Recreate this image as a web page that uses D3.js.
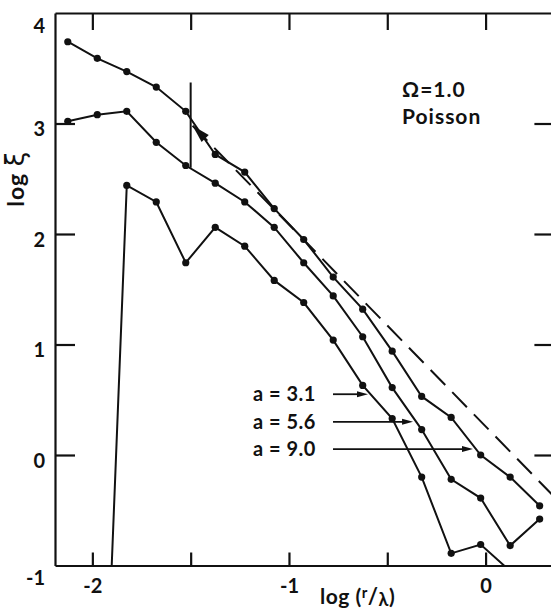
<!DOCTYPE html>
<html><head><meta charset="utf-8">
<script src="https://cdn.jsdelivr.net/npm/d3@7"></script>
<style>
body{margin:0;background:#fff}
text{font-family:Lato,"DejaVu Sans",sans-serif;font-weight:700;fill:#111}
</style>
</head><body><svg id="c" width="551" height="611"></svg>
<script>
// ---- data ----
const logR = [-2.125, -1.975, -1.825, -1.675, -1.525, -1.375, -1.225, -1.075, -0.925,
              -0.775, -0.625, -0.475, -0.325, -0.175, -0.025, 0.125, 0.275];
const xiA90 = [3.74, 3.59, 3.47, 3.33, 3.11, 2.72, 2.56, 2.23, 1.95, 1.61, 1.32, 0.94, 0.53, 0.34, 0.00, -0.20, -0.46];
const xiA56 = [3.02, 3.08, 3.11, 2.83, 2.62, 2.46, 2.29, 2.06, 1.74, 1.44, 1.07, 0.61, 0.23, -0.22, -0.39, -0.82, -0.58];
const xiA31 = [null, -4.3, 2.44, 2.29, 1.74, 2.06, 1.89, 1.58, 1.38, 1.04, 0.63, 0.33, -0.20, -0.89, -0.81, -1.05, null];
const seriesNames = ["a = 3.1", "a = 5.6", "a = 9.0"];
const labelArrowY = [0.55, 0.30, 0.054];
const labelArrowX0 = [-0.776, -0.776, -0.776];
const labelArrowX1 = [-0.598, -0.369, -0.064];
const powerLawX = [-1.49, 0.35];
const powerLawY = [2.98, -0.38];
const markerX = -1.5;
const markerY = [2.6, 3.37];
const xTicks = [-2, -1.5, -1, -0.5, 0];
const xTickLabels = {"-2": "-2", "-1": "-1", "0": "0"};
const yTicks = [-1, 0, 1, 2, 3, 4];
const yInnerTicks = [0, 1, 2, 3];
const noteLines = ["Ω=1.0", "Poisson"];

// ---- layout ----
const svg = d3.select("#c");
const x = d3.scaleLinear().domain([-2.19, 0.35]).range([55, 554.4]);
const y = d3.scaleLinear().domain([-1, 4]).range([565.5, 13]);
const ink = "#111";

svg.append("defs").append("clipPath").attr("id", "clip")
  .append("rect").attr("x", x(-2.19)).attr("y", y(4))
  .attr("width", x(0.35) - x(-2.19)).attr("height", y(-1) - y(4));

function styleAxis(g) {
  g.selectAll("path.domain").attr("stroke", ink).attr("stroke-width", 2.2);
  g.selectAll(".tick line").attr("stroke", ink).attr("stroke-width", 2.2);
  g.selectAll("text").attr("font-size", 20).attr("fill", ink)
    .attr("font-family", 'Lato,"DejaVu Sans",sans-serif').attr("font-weight", 700);
}

// left axis
const gl = svg.append("g").attr("transform", `translate(${x(-2.19)},0)`)
  .call(d3.axisLeft(y).tickValues(yTicks).tickSizeInner(-20).tickSizeOuter(0).tickPadding(10)
    .tickFormat(d => d3.format("d")(d).replace("−", "-")));
styleAxis(gl);
gl.selectAll(".tick").filter(d => d === 4 || d === -1).select("line").remove();
gl.selectAll(".tick text").attr("dy", d => (d === 4 || d === -1) ? "0.95em" : "0.6em");

// right axis
const gr = svg.append("g").attr("transform", `translate(${x(0.35)},0)`)
  .call(d3.axisLeft(y).tickValues(yInnerTicks).tickSizeInner(20).tickSizeOuter(0).tickFormat(""));
styleAxis(gr);

// bottom axis
const gb = svg.append("g").attr("transform", `translate(0,${y(-1)})`)
  .call(d3.axisBottom(x).tickValues(xTicks).tickSizeInner(-13).tickSizeOuter(0).tickPadding(9)
    .tickFormat(d => xTickLabels[String(d)] || ""));
styleAxis(gb);
gb.selectAll(".tick text").attr("dy", "0.9em");

// top axis
const gt = svg.append("g").attr("transform", `translate(0,${y(4)})`)
  .call(d3.axisTop(x).tickValues(xTicks).tickSizeInner(-17).tickSizeOuter(0).tickFormat(""));
styleAxis(gt);

// axis titles
const yt = svg.append("text").attr("transform", `translate(24,${y(2.5)}) rotate(-90)`)
  .attr("text-anchor", "middle").attr("font-size", 23).attr("letter-spacing", 1);
yt.append("tspan").text("log  ");
yt.append("tspan").attr("font-size", 26).attr("font-weight", 400)
  .attr("font-family", '"DejaVu Sans",sans-serif').text("ξ");

const xt = svg.append("text").attr("x", 320).attr("y", 604).attr("font-size", 21).attr("letter-spacing", 0.5);
xt.append("tspan").text("log  (");
xt.append("tspan").attr("font-size", 15).attr("dy", -6).text("r");
xt.append("tspan").attr("font-size", 22).attr("dy", 6).text("/");
xt.append("tspan").attr("font-size", 18).attr("dy", 2).text("λ");
xt.append("tspan").attr("dy", -2).text(")");

// data curves
const plot = svg.append("g").attr("clip-path", "url(#clip)");
const line = d3.line().defined(d => d[1] !== null).x(d => x(d[0])).y(d => y(d[1]));
[xiA31, xiA56, xiA90].forEach(series => {
  const pts = logR.map((r, i) => [r, series[i]]);
  plot.append("path").datum(pts).attr("d", line)
    .attr("fill", "none").attr("stroke", ink).attr("stroke-width", 2);
  plot.selectAll(null).data(pts.filter(d => d[1] !== null)).enter().append("circle")
    .attr("cx", d => x(d[0])).attr("cy", d => y(d[1])).attr("r", 3.6).attr("fill", ink);
});

// vertical marker
plot.append("line").attr("x1", x(markerX)).attr("x2", x(markerX))
  .attr("y1", y(markerY[0])).attr("y2", y(markerY[1]))
  .attr("stroke", ink).attr("stroke-width", 2);

// power-law dashed line with arrowhead at its start
const p0 = [x(powerLawX[0]), y(powerLawY[0])], p1 = [x(powerLawX[1]), y(powerLawY[1])];
plot.append("line").attr("x1", p0[0]).attr("y1", p0[1]).attr("x2", p1[0]).attr("y2", p1[1])
  .attr("stroke", ink).attr("stroke-width", 2).attr("stroke-dasharray", "21 10");
{
  const dx = p1[0] - p0[0], dy = p1[1] - p0[1], L = Math.hypot(dx, dy);
  const ux = dx / L, uy = dy / L, px = -uy, py = ux;
  const b = [p0[0] + 18 * ux, p0[1] + 18 * uy];
  plot.append("path")
    .attr("d", `M${p0[0]},${p0[1]}L${b[0] + 5 * px},${b[1] + 5 * py}L${b[0] - 5 * px},${b[1] - 5 * py}Z`)
    .attr("fill", ink);
}

// series labels with arrows
seriesNames.forEach((name, i) => {
  const yy = y(labelArrowY[i]);
  svg.append("text").attr("x", 253).attr("y", yy + 7).attr("font-size", 20)
    .attr("letter-spacing", 0.5).text(name);
  const xa = x(labelArrowX0[i]), xb = x(labelArrowX1[i]);
  svg.append("line").attr("x1", xa).attr("x2", xb - 6).attr("y1", yy).attr("y2", yy)
    .attr("stroke", ink).attr("stroke-width", 1.8);
  svg.append("path").attr("d", `M${xb},${yy}L${xb - 11},${yy - 3}L${xb - 11},${yy + 3}Z`).attr("fill", ink);
});

// note
svg.append("text").attr("x", 402).attr("y", 97).attr("font-size", 21).attr("letter-spacing", 1).text(noteLines[0]);
svg.append("text").attr("x", 402).attr("y", 124).attr("font-size", 21).attr("letter-spacing", 1).text(noteLines[1]);
</script>
</body></html>
